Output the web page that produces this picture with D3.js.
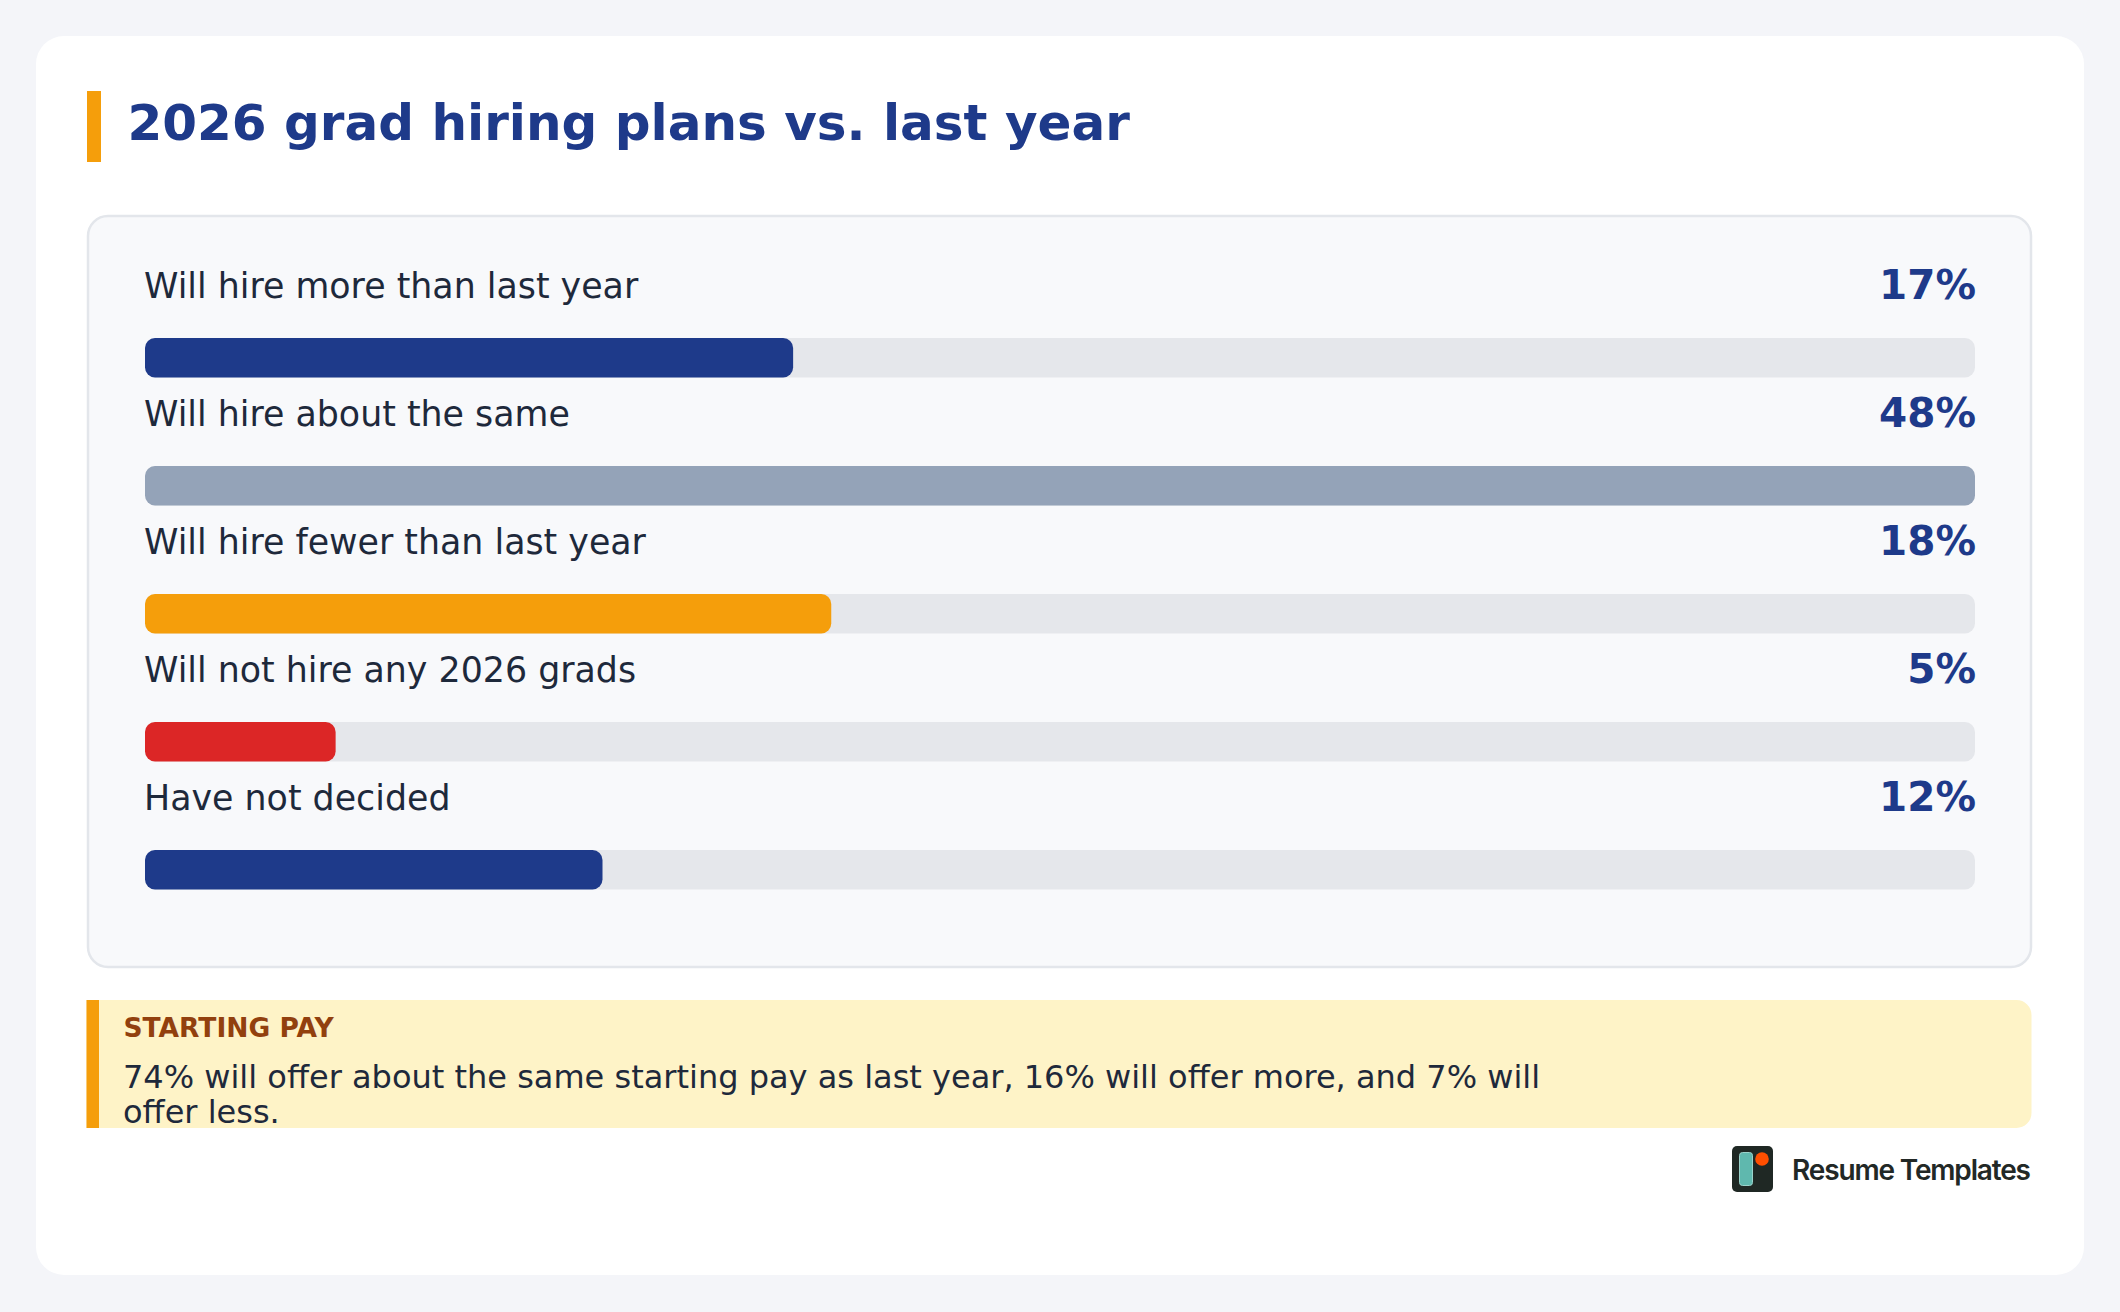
<!DOCTYPE html>
<html>
<head>
<meta charset="utf-8">
<script src="https://cdn.jsdelivr.net/npm/d3@7"></script>
<style>
  html, body { margin: 0; padding: 0; background: #f4f5f9; }
  svg { display: block; }
</style>
</head>
<body>
<div id="chart"></div>
<script>
// ---- Data ----
const title = "2026 grad hiring plans vs. last year";
const categories = [
  "Will hire more than last year",
  "Will hire about the same",
  "Will hire fewer than last year",
  "Will not hire any 2026 grads",
  "Have not decided"
];
const values = [17, 48, 18, 5, 12];
const valueLabels = ["17%", "48%", "18%", "5%", "12%"];
const barColors = ["#1e3a8a", "#94a3b8", "#f59e0b", "#dc2626", "#1e3a8a"];
const calloutTitle = "STARTING PAY";
const calloutLines = [
  "74% will offer about the same starting pay as last year, 16% will offer more, and 7% will",
  "offer less."
];
const brand = "Resume Templates";

// ---- Layout ----
const W = 2120, H = 1312;
const FONT = "'DejaVu Sans', 'Noto Sans', sans-serif";

const svg = d3.select("#chart").append("svg")
  .attr("width", W).attr("height", H)
  .attr("viewBox", `0 0 ${W} ${H}`);

svg.append("rect").attr("width", W).attr("height", H).attr("fill", "#f4f5f9");

// outer card
svg.append("rect")
  .attr("x", 36).attr("y", 36).attr("width", 2048).attr("height", 1239)
  .attr("rx", 28).attr("fill", "#ffffff");

// title accent + title
svg.append("rect").attr("x", 87).attr("y", 91).attr("width", 14).attr("height", 71).attr("fill", "#f59e0b");
svg.append("text")
  .attr("x", 127.5).attr("y", 140)
  .attr("font-family", FONT).attr("font-size", 50).attr("font-weight", 700)
  .attr("fill", "#1e3a8a")
  .text(title);

// inner panel
svg.append("rect")
  .attr("x", 88).attr("y", 216).attr("width", 1943).attr("height", 751)
  .attr("rx", 20).attr("fill", "#f8f9fb")
  .attr("stroke", "#e3e6eb").attr("stroke-width", 2.5);

// scales
const x = d3.scaleLinear().domain([0, d3.max(values)]).range([145, 1975]);
const y = d3.scaleBand().domain(categories).range([250, 250 + 128 * categories.length]).padding(0);

const barH = 39.5;
const rows = svg.append("g").selectAll("g")
  .data(categories.map((c, i) => ({ c, v: values[i], label: valueLabels[i], color: barColors[i] })))
  .join("g")
  .attr("transform", d => `translate(0, ${y(d.c)})`);

rows.append("text")
  .attr("x", 144).attr("y", 48)
  .attr("font-family", FONT).attr("font-size", 34.8)
  .attr("fill", "#1e293b")
  .text(d => d.c);

rows.append("text")
  .attr("x", 1976).attr("y", 49)
  .attr("text-anchor", "end")
  .attr("font-family", FONT).attr("font-size", 40.5).attr("font-weight", 700)
  .attr("fill", "#1e3a8a")
  .text(d => d.label);

rows.append("rect")
  .attr("x", x(0)).attr("y", 88)
  .attr("width", x.range()[1] - x(0)).attr("height", barH)
  .attr("rx", 10).attr("fill", "#e5e7eb");

rows.append("rect")
  .attr("x", x(0)).attr("y", 88)
  .attr("width", d => x(d.v) - x(0)).attr("height", barH)
  .attr("rx", 10).attr("fill", d => d.color);

// callout
const cx0 = 86.5, cy0 = 1000, cx1 = 2031.5, cy1 = 1128, cr = 15;
svg.append("path")
  .attr("d", `M${cx0},${cy0} H${cx1 - cr} A${cr},${cr} 0 0 1 ${cx1},${cy0 + cr} V${cy1 - cr} A${cr},${cr} 0 0 1 ${cx1 - cr},${cy1} H${cx0} Z`)
  .attr("fill", "#fef3c7");
svg.append("rect").attr("x", cx0).attr("y", cy0).attr("width", 12.5).attr("height", cy1 - cy0).attr("fill", "#f59e0b");

svg.append("text")
  .attr("x", 123.5).attr("y", 1037)
  .attr("font-family", FONT).attr("font-size", 26.5).attr("font-weight", 700)
  .attr("fill", "#92400e")
  .text(calloutTitle);

svg.append("text")
  .attr("font-family", FONT).attr("font-size", 32)
  .attr("fill", "#1e293b")
  .selectAll("tspan").data(calloutLines).join("tspan")
  .attr("x", 123).attr("y", (d, i) => 1088 + i * 34.5)
  .text(d => d);

// brand logo
const logo = svg.append("g");
logo.append("rect").attr("x", 1732).attr("y", 1146).attr("width", 41).attr("height", 46).attr("rx", 5).attr("fill", "#1f2824");
logo.append("rect").attr("x", 1739.5).attr("y", 1152.5).attr("width", 13).attr("height", 33).attr("rx", 3)
  .attr("fill", "#5fb8ae").attr("stroke", "#9ad3cb").attr("stroke-width", 1);
logo.append("circle").attr("cx", 1762).attr("cy", 1159).attr("r", 6.8).attr("fill", "#ff4f00");
logo.append("text")
  .attr("x", 1792).attr("y", 1180)
  .attr("font-family", "Inter, 'Open Sans', sans-serif").attr("font-size", 28).attr("font-weight", 600)
  .attr("fill", "#222826")
  .attr("textLength", 239).attr("lengthAdjust", "spacing")
  .text(brand);
</script>
</body>
</html>
